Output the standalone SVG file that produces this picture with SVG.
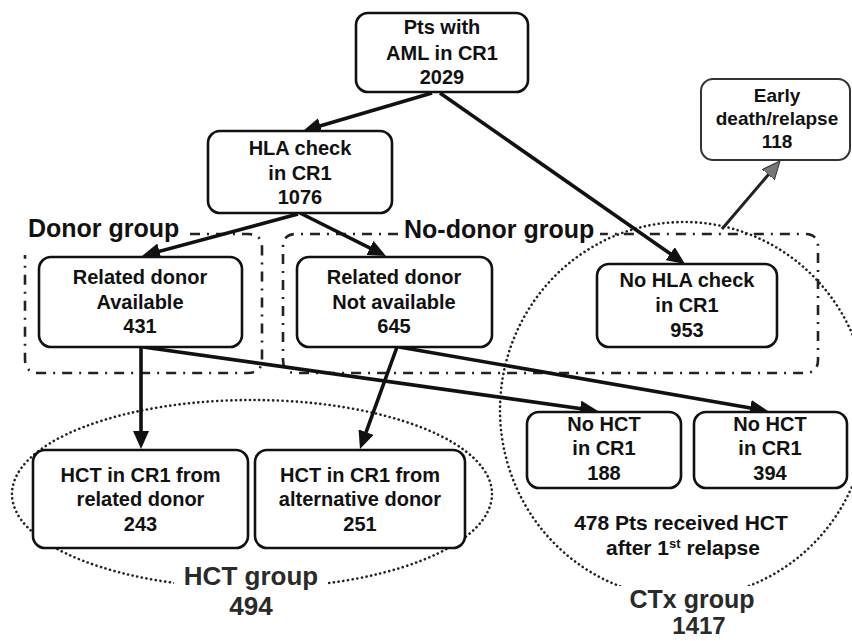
<svg xmlns="http://www.w3.org/2000/svg" width="852" height="641" viewBox="0 0 852 641">
<style>
  text { font-family: "Liberation Sans", Arial, sans-serif; font-weight: bold; fill: #111; text-anchor: middle; }
  .n { font-size: 20px; }
  .box { fill: #fff; stroke: #111; stroke-width: 2.6; }
  .conn { stroke: #111; stroke-width: 3.6; fill: none; marker-end: url(#ah); }
  .dotted { fill: none; stroke: #222; stroke-width: 2.6; stroke-linecap: round; stroke-dasharray: 0.1 4.6; }
  .dashdot { fill: none; stroke: #222; stroke-width: 2.6; stroke-dasharray: 10 7 2 7; }
  .glabel { font-size: 25px; }
  .mask { fill: #fff; stroke: none; }
  .halo { paint-order: stroke; stroke: #fff; stroke-width: 6; stroke-linejoin: round; fill: #2a2a2a; }
</style>
<defs>
  <marker id="ah" viewBox="0 0 18 16" refX="12" refY="8" markerWidth="18" markerHeight="16" markerUnits="userSpaceOnUse" orient="auto">
    <path d="M0,0 L18,8 L0,16 z" fill="#111"/>
  </marker>
  <marker id="ahg" viewBox="0 0 18 16" refX="12" refY="8" markerWidth="18" markerHeight="16" markerUnits="userSpaceOnUse" orient="auto">
    <path d="M0,0 L18,8 L0,16 z" fill="#777" stroke="#333" stroke-width="1"/>
  </marker>
</defs>
<rect width="852" height="641" fill="#fff"/>

<g id="boundaries">
  <ellipse id="hct-group-outline" class="dotted" cx="252" cy="494" rx="240" ry="94"/>
  <ellipse id="ctx-group-outline" class="dotted" cx="684" cy="410" rx="184" ry="188"/>
  <path id="donor-group-outline" class="dashdot" d="M190 234 H248 Q262 234 262 248 V359 Q262 373 248 373 H39 Q25 373 25 359 V255"/>
  <path id="nodonor-group-outline" class="dashdot" d="M398 234 H296 Q283 234 283 247 V360 Q283 373 296 373 H805 Q818 373 818 360 V247 Q818 234 805 234 H600"/>
  <text class="glabel" x="28" y="237" style="text-anchor:start">Donor group</text>
  <text class="glabel" x="404" y="238" style="text-anchor:start">No-donor group</text>
</g>

<g id="connectors">
  <line class="conn" x1="432" y1="93" x2="308.8" y2="129.3"/>
  <line class="conn" x1="440" y1="93" x2="680.1" y2="260.6"/>
  <line class="conn" x1="298" y1="214" x2="147.8" y2="254.4"/>
  <line class="conn" x1="300" y1="213" x2="380.6" y2="253.3"/>
  <line class="conn" x1="141" y1="347" x2="141" y2="443"/>
  <line class="conn" x1="143" y1="347" x2="592.1" y2="410.2"/>
  <line class="conn" x1="397" y1="347" x2="362" y2="443.4"/>
  <line class="conn" x1="399" y1="347" x2="762.1" y2="410"/>
  <line x1="722" y1="229" x2="776.1" y2="165.6" stroke="#222" stroke-width="3" marker-end="url(#ahg)"/>
</g>

<g id="n-pts">
  <rect class="box" x="356" y="13" width="172" height="79" rx="12"/>
  <text class="n" x="442" y="34">Pts with</text>
  <text class="n" x="442" y="60">AML in CR1</text>
  <text class="n" x="442" y="84">2029</text>
</g>
<g id="n-hla">
  <rect class="box" x="208" y="131" width="184" height="82" rx="12"/>
  <text class="n" x="300" y="155">HLA check</text>
  <text class="n" x="300" y="180">in CR1</text>
  <text class="n" x="300" y="204">1076</text>
</g>
<g id="n-early">
  <rect class="box" x="701" y="79" width="149" height="81" rx="12" style="stroke-width:2;stroke:#333"/>
  <text class="n" x="777" y="102" style="font-size:19px">Early</text>
  <text class="n" x="777" y="125" style="font-size:19px">death/relapse</text>
  <text class="n" x="777" y="148" style="font-size:19px">118</text>
</g>
<g id="n-rel-avail">
  <rect class="box" x="39" y="257" width="203" height="90" rx="12"/>
  <text class="n" x="140" y="284">Related donor</text>
  <text class="n" x="140" y="309">Available</text>
  <text class="n" x="140" y="333">431</text>
</g>
<g id="n-rel-notavail">
  <rect class="box" x="297" y="257" width="195" height="90" rx="12"/>
  <text class="n" x="394" y="284">Related donor</text>
  <text class="n" x="394" y="309">Not available</text>
  <text class="n" x="394" y="333">645</text>
</g>
<g id="n-nohla">
  <rect class="box" x="597" y="264" width="180" height="83" rx="12"/>
  <text class="n" x="687" y="287">No HLA check</text>
  <text class="n" x="687" y="312">in CR1</text>
  <text class="n" x="687" y="337">953</text>
</g>
<g id="n-hct-rel">
  <rect class="box" x="33" y="450" width="215" height="98" rx="12"/>
  <text class="n" x="140.5" y="482">HCT in CR1 from</text>
  <text class="n" x="140.5" y="506">related donor</text>
  <text class="n" x="140.5" y="531">243</text>
</g>
<g id="n-hct-alt">
  <rect class="box" x="255" y="450" width="210" height="98" rx="12"/>
  <text class="n" x="360" y="482">HCT in CR1 from</text>
  <text class="n" x="360" y="506">alternative donor</text>
  <text class="n" x="360" y="531">251</text>
</g>
<g id="n-nohct-188">
  <rect class="box" x="527" y="412" width="154" height="76" rx="12"/>
  <text class="n" x="604" y="431">No HCT</text>
  <text class="n" x="604" y="455">in CR1</text>
  <text class="n" x="604" y="480">188</text>
</g>
<g id="n-nohct-394">
  <rect class="box" x="694" y="412" width="153" height="76" rx="12"/>
  <text class="n" x="770" y="431">No HCT</text>
  <text class="n" x="770" y="455">in CR1</text>
  <text class="n" x="770" y="480">394</text>
</g>

<g id="labels">
  <text x="681" y="530" style="font-size:21px">478 Pts received HCT</text>
  <text x="683" y="555" style="font-size:21px">after 1<tspan dy="-7" style="font-size:13px">st</tspan><tspan dy="7"> relapse</tspan></text>
  <rect class="mask" x="174" y="564" width="154" height="30"/>
  <text class="halo" x="251" y="585" style="font-size:26px">HCT group</text>
  <text class="halo" x="251" y="615" style="font-size:26px">494</text>
  <rect class="mask" x="616" y="586" width="152" height="28"/>
  <text class="halo" x="692" y="608" style="font-size:25px">CTx group</text>
  <text class="halo" x="699" y="634" style="font-size:24px">1417</text>
</g>
</svg>
